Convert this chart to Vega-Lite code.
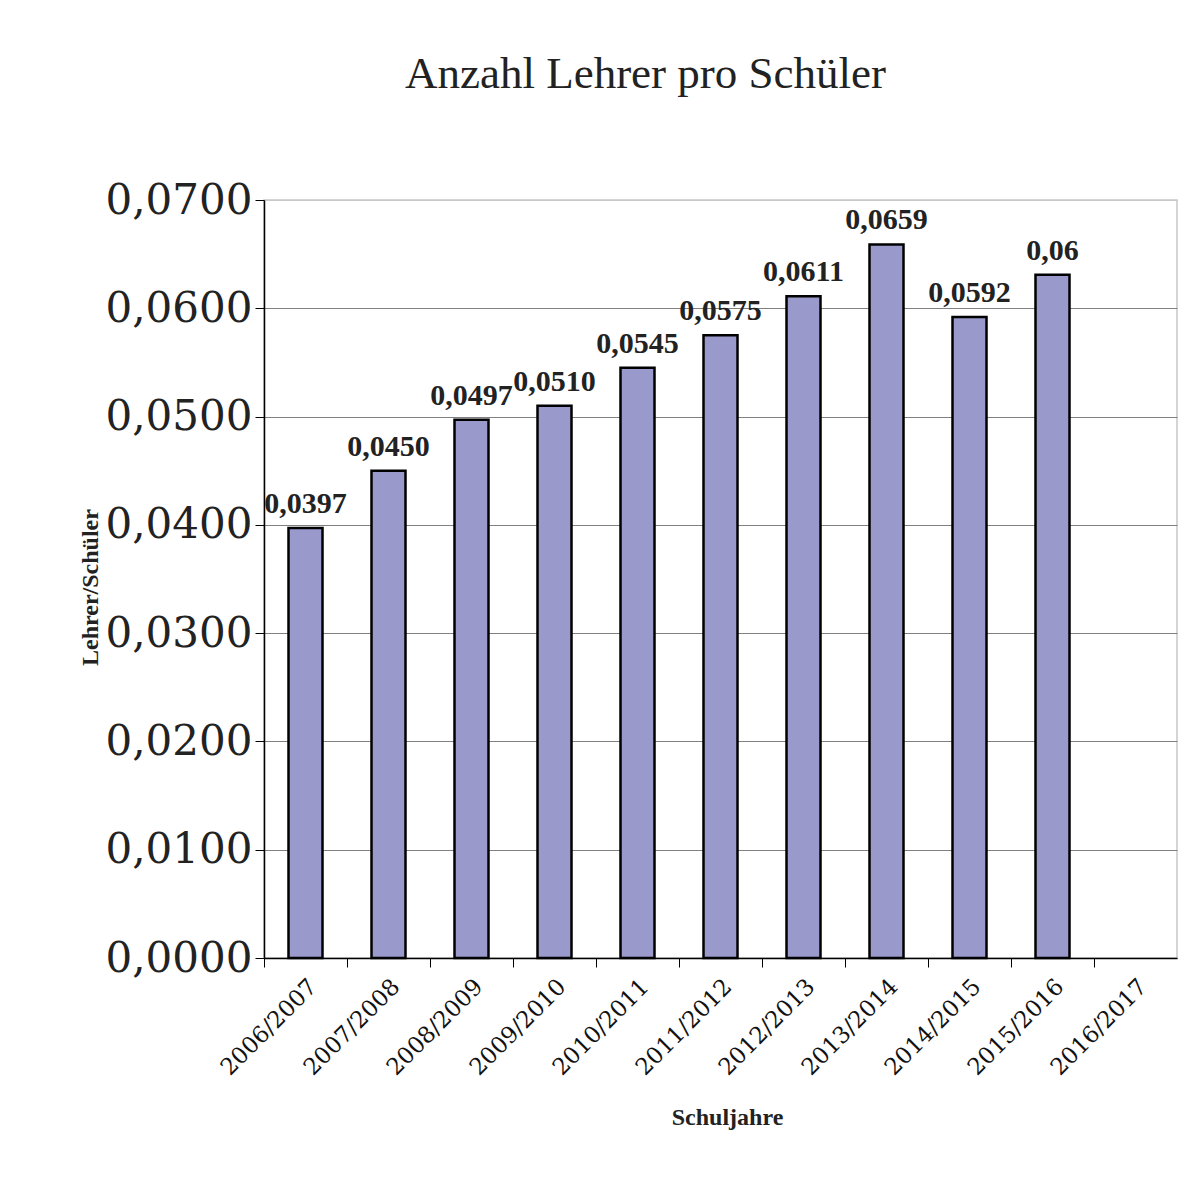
{
  "$schema": "https://vega.github.io/schema/vega-lite/v6.json",
  "width": 913,
  "height": 758,
  "autosize": {"type": "none"},
  "padding": {"left": 264, "top": 200, "right": 23, "bottom": 236},
  "background": "white",
  "config": {
    "locale": {"number": {"decimal": ",", "thousands": ".", "grouping": [3], "currency": ["", " €"]}},
    "view": {"stroke": "#c8c8c8", "strokeWidth": 1.5}
  },
  "title": {
    "text": "Anzahl Lehrer pro Schüler",
    "font": "Liberation Serif",
    "fontSize": 45,
    "fontWeight": "normal",
    "color": "#222222",
    "anchor": "middle",
    "frame": "group",
    "dx": -75,
    "offset": 82
  },
  "data": {
    "values": [
      {"jahr": "2006/2007", "wert": 0.0397, "label": "0,0397"},
      {"jahr": "2007/2008", "wert": 0.0450, "label": "0,0450"},
      {"jahr": "2008/2009", "wert": 0.0497, "label": "0,0497"},
      {"jahr": "2009/2010", "wert": 0.0510, "label": "0,0510"},
      {"jahr": "2010/2011", "wert": 0.0545, "label": "0,0545"},
      {"jahr": "2011/2012", "wert": 0.0575, "label": "0,0575"},
      {"jahr": "2012/2013", "wert": 0.0611, "label": "0,0611"},
      {"jahr": "2013/2014", "wert": 0.0659, "label": "0,0659"},
      {"jahr": "2014/2015", "wert": 0.0592, "label": "0,0592"},
      {"jahr": "2015/2016", "wert": 0.0631, "label": "0,06"},
      {"jahr": "2016/2017", "wert": null, "label": ""}
    ]
  },
  "encoding": {
    "x": {
      "field": "jahr",
      "type": "nominal",
      "sort": null,
      "scale": {
        "domain": ["2006/2007", "2007/2008", "2008/2009", "2009/2010", "2010/2011", "2011/2012", "2012/2013", "2013/2014", "2014/2015", "2015/2016", "2016/2017"],
        "paddingInner": 0,
        "paddingOuter": 0
      },
      "axis": {
        "title": "Schuljahre",
        "titleFont": "Liberation Serif",
        "titleFontSize": 24,
        "titleFontWeight": "bold",
        "titleColor": "#222222",
        "titleX": 463,
        "titleY": 159,
        "titleBaseline": "middle",
        "labelFont": "DejaVu Serif",
        "labelFontSize": 23,
        "labelColor": "#111111",
        "labelAngle": -45,
        "labelAlign": "right",
        "labelBaseline": "top",
        "labelPadding": 8,
        "bandPosition": 0,
        "tickSize": 9,
        "tickColor": "#000000",
        "tickWidth": 1,
        "domainColor": "#000000",
        "domainWidth": 1.5,
        "grid": false
      }
    },
    "y": {
      "field": "wert",
      "type": "quantitative",
      "scale": {"domain": [0, 0.07], "nice": false},
      "axis": {
        "title": "Lehrer/Schüler",
        "titleFont": "Liberation Serif",
        "titleFontSize": 24,
        "titleFontWeight": "bold",
        "titleColor": "#222222",
        "titleX": -174,
        "titleY": 387,
        "titleAlign": "center",
        "titleBaseline": "middle",
        "titleAngle": -90,
        "format": ".4f",
        "values": [0, 0.01, 0.02, 0.03, 0.04, 0.05, 0.06, 0.07],
        "labelFont": "DejaVu Serif",
        "labelFontSize": 42,
        "labelColor": "#222222",
        "labelPadding": 3,
        "tickSize": 9,
        "tickColor": "#000000",
        "domainColor": "#000000",
        "domainWidth": 1.5,
        "grid": true,
        "gridColor": {"condition": {"test": "datum.value >= 0.07", "value": "#c8c8c8"}, "value": "#808080"},
        "gridWidth": 1.2
      }
    }
  },
  "layer": [
    {
      "mark": {"type": "bar", "width": 34, "fill": "#9999cc", "stroke": "#000000", "strokeWidth": 2.5}
    },
    {
      "mark": {"type": "text", "font": "Liberation Serif", "fontSize": 30, "fontWeight": "bold", "color": "#222222", "baseline": "bottom", "dy": -9},
      "encoding": {"text": {"field": "label"}}
    }
  ]
}
